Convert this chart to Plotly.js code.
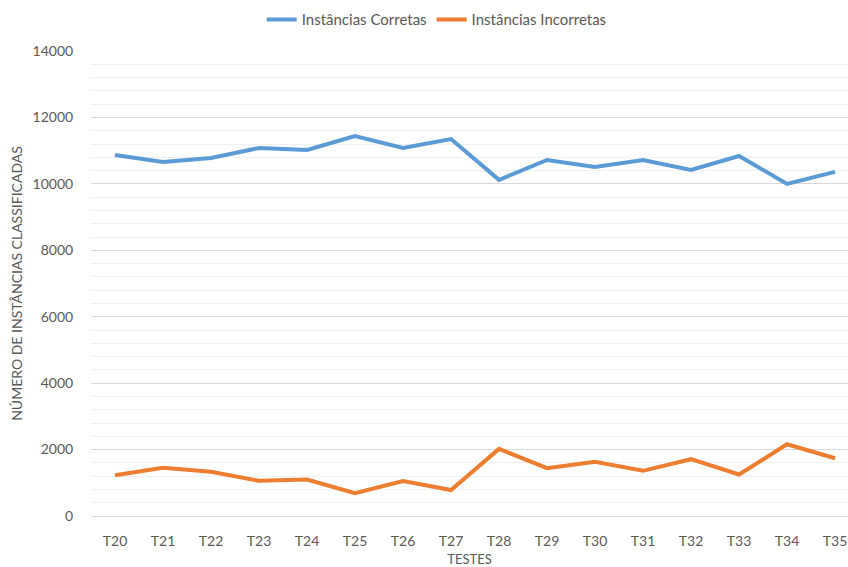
<!DOCTYPE html>
<html>
<head>
<meta charset="utf-8">
<script src="https://cdn.plot.ly/plotly-3.0.1.min.js"></script>
<style>html,body{margin:0;padding:0;background:#fff;}#chart{width:848px;height:567px;}</style>
</head>
<body>
<div id="chart"></div>
<script>
const categories = ["T20","T21","T22","T23","T24","T25","T26","T27","T28","T29","T30","T31","T32","T33","T34","T35"];
const corretas = [10870,10660,10780,11080,11020,11440,11080,11350,10120,10720,10510,10720,10420,10840,10000,10360];
const incorretas = [1230,1450,1330,1060,1100,690,1050,780,2020,1440,1630,1360,1710,1250,2160,1740];
const seriesNames = ["Instâncias Corretas","Instâncias Incorretas"];

const font = "Lato, 'Open Sans', sans-serif";
const traces = [
  {x: categories, y: corretas, name: seriesNames[0], type: 'scatter', mode: 'lines',
   line: {color: '#5B9BD5', width: 4}},
  {x: categories, y: incorretas, name: seriesNames[1], type: 'scatter', mode: 'lines',
   line: {color: '#ED7D31', width: 4}}
];
const layout = {
  width: 848, height: 567,
  margin: {l: 91, r: 0, t: 51, b: 51},
  paper_bgcolor: '#fff', plot_bgcolor: '#fff',
  font: {family: font, color: '#595959', size: 14},
  showlegend: true,
  legend: {orientation: 'h', xref: 'container', yref: 'container', x: 0.515, xanchor: 'center',
           y: 0.965, yanchor: 'middle', font: {size: 15, color: '#595959'}, itemwidth: 30, tracegroupgap: 0},
  xaxis: {type: 'category', range: [-0.5, 15.27], showgrid: false, zeroline: false, showline: false,
          ticks: 'outside', ticklen: 12, tickcolor: 'rgba(0,0,0,0)', tickfont: {size: 14, color: '#595959'},
          title: {text: 'TESTES', font: {size: 13, color: '#595959'}, standoff: 8}},
  yaxis: {range: [0, 14000], dtick: 2000, tickformat: 'd', showgrid: true, gridcolor: '#d9d9d9', gridwidth: 1,
          zeroline: true, zerolinecolor: '#d9d9d9', zerolinewidth: 1, showline: false,
          ticks: 'outside', ticklen: 14, tickcolor: 'rgba(0,0,0,0)', tickfont: {size: 14, color: '#595959'},
          minor: {dtick: 400, showgrid: true, gridcolor: '#f0f0f0', gridwidth: 1},
          title: {text: 'NÚMERO DE INSTÂNCIAS CLASSIFICADAS', font: {size: 14, color: '#595959'}, standoff: 6}}
};
Plotly.newPlot('chart', traces, layout, {displayModeBar: false, staticPlot: true});
</script>
</body>
</html>
